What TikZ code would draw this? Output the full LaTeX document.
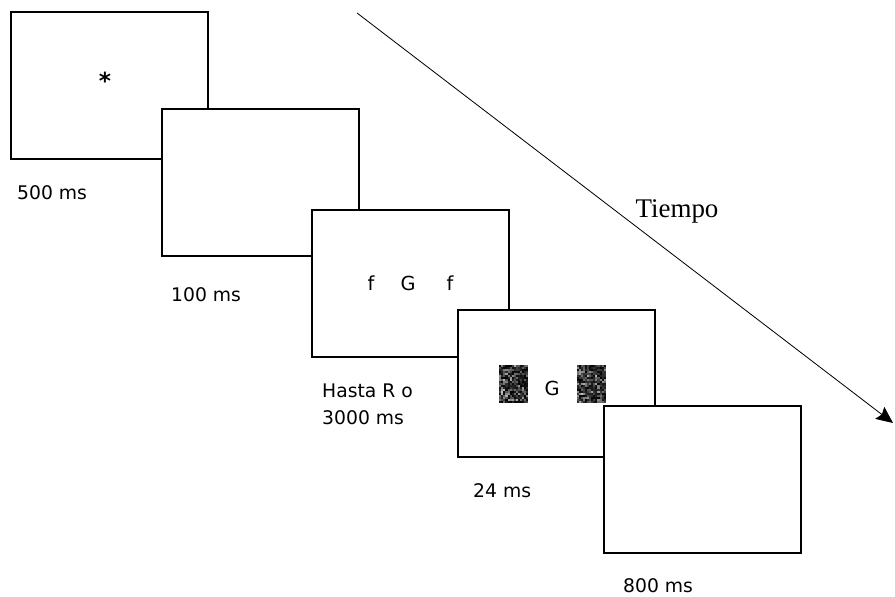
\documentclass[tikz,border=0pt]{standalone}
\usepackage{fontspec}
\setmainfont{DejaVu Sans}
\newfontfamily\tiempofont{Liberation Serif}
\usetikzlibrary{arrows.meta,positioning,calc}
\tikzset{
  pantalla/.style={draw,line width=1.7pt,fill=white,minimum width=5.9cm,minimum height=4.42cm,anchor=north west,inner sep=0pt},
  dur/.style={font=\fontsize{16}{23}\selectfont,inner sep=0pt,align=left},
  letra/.style={font=\fontsize{16.5}{19}\selectfont,inner sep=0pt,anchor=base},
  mascara/.style={minimum width=0.87cm,minimum height=1.14cm,inner sep=0pt}
}

\begin{document}
\begin{tikzpicture}[x=0.03cm,y=-0.03cm,>={Stealth[length=0.5cm,width=0.45cm,inset=0.08cm]}]
  \useasboundingbox (0,0) rectangle (895,597);
  % eje del tiempo
  \coordinate (t0) at (357,13); \coordinate (t1) at (893,423);
  \draw[->,line width=0.7pt] (t0) -- (t1);
  \node[font=\tiempofont\fontsize{23}{26}\selectfont,inner sep=0pt,anchor=base] (tiempo) at (677,218) {Tiempo};
  % pantallas
  \node[pantalla] (p1) at (10,11) {}; \node[font=\fontsize{20}{22}\selectfont\bfseries,inner sep=0pt,anchor=base] (fix) at (105,90) {*};
  \node[pantalla] (p2) at (161,108) {};
  \node[pantalla] (p3) at (311,209) {};
  \node[letra] (f1) at (371,291) {f}; \node[letra] (g1) at (408,291) {G}; \node[letra] (f2) at (450,291) {f};
  \node[pantalla] (p4) at (457,309) {};
  \node[mascara] (m1) at (514,384.5) {}; \node[mascara] (m2) at (591.5,384.5) {};
  \node[letra] (g2) at (552,395) {G};
  \pgfmathsetseed{17}
  \foreach \m in {m1,m2}{\foreach \i in {0,...,13}{\foreach \j in {0,...,18}{
    \pgfmathsetmacro\g{int(100*(rnd^0.3))}
    \fill[black!\g] ($(\m.north west)+(\i*2.07,\j*2)$) rectangle ++(2.07,2);}}}
  \node[pantalla] (p5) at (603,405) {};
  % duraciones
  \node[dur,anchor=base west] (d1) at (17,200) {500 ms};
  \node[dur,anchor=base west] (d2) at (171,301) {100 ms};
  \node[dur,anchor=north west] (d3) at (322,384) {Hasta R o\\3000 ms};
  \node[dur,anchor=base west] (d4) at (473,497) {24 ms};
  \node[dur,anchor=base west] (d5) at (623,592) {800 ms};
\end{tikzpicture}
\end{document}
